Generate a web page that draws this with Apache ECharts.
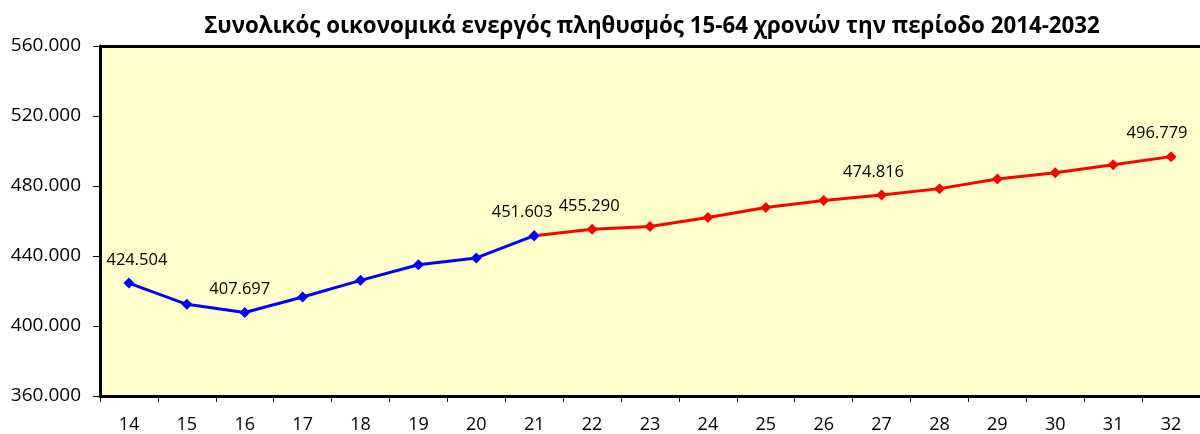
<!DOCTYPE html>
<html><head><meta charset="utf-8">
<script src="https://cdn.jsdelivr.net/npm/echarts@6/dist/echarts.min.js"></script>
<style>html,body{margin:0;padding:0;background:#fff}#c{width:1200px;height:434px}</style>
</head><body><div id="c"></div>
<script>
const title = 'Συνολικός οικονομικά ενεργός πληθυσμός 15-64 χρονών την περίοδο 2014-2032';
const categories = ['14','15','16','17','18','19','20','21','22','23','24','25','26','27','28','29','30','31','32'];
const actualValues = [424504, 412400, 407697, 416600, 426100, 435000, 438900, 451603];
const projectedValues = [451603, 455290, 456900, 462000, 467700, 471700, 474816, 478500, 484000, 487600, 492200, 496779];
const labeledCategories = ['14','16','21','22','27','32'];
const yTicks = [360000, 400000, 440000, 480000, 520000, 560000];

// horizontal nudges of the value labels (px), as placed in the reference
const labelNudge = { '14': 8, '16': -5, '21': -12, '22': -3, '27': -8, '32': -14 };

const fmt = v => Math.round(v).toString().replace(/\B(?=(\d{3})+(?!\d))/g, '.');
const projStart = categories.length - projectedValues.length;
const mk = (vals, start) => categories.map((c, i) => {
  const j = i - start;
  if (j < 0 || j >= vals.length) return null;
  const o = { value: vals[j] };
  if (labelNudge[c] !== undefined) o.label = { offset: [labelNudge[c], 0] };
  return o;
});
const actualData = mk(actualValues, 0);
const projData = mk(projectedValues, projStart);

const font = '"Open Sans", "Noto Sans", sans-serif';
const chart = echarts.init(document.getElementById('c'));
const labelCfg = (skip) => ({
  show: true, position: 'top', distance: 9, color: '#000', fontSize: 16.5, fontFamily: font,
  formatter: p => (labeledCategories.includes(p.name) && p.name !== skip) ? fmt(p.value) : ''
});
chart.setOption({
  animation: false,
  title: { text: title, left: 647, top: 11, textAlign: 'center',
    textStyle: { fontSize: 22.3, fontWeight: 'bold', fontFamily: font, color: '#000' } },
  grid: { left: 100, width: 1110, top: 46, bottom: 36, show: true, backgroundColor: '#ffffcc', borderWidth: 0 },
  xAxis: {
    type: 'category', data: categories, boundaryGap: true,
    axisLine: { lineStyle: { color: '#000', width: 3 } },
    axisTick: { show: true, length: 6, lineStyle: { color: '#000', width: 1 } },
    axisLabel: { color: '#000', fontSize: 18, fontFamily: font, margin: 20 }
  },
  yAxis: {
    type: 'value', min: yTicks[0], max: yTicks[yTicks.length - 1], interval: 40000,
    axisLine: { show: true, lineStyle: { color: '#000', width: 3 } },
    axisTick: { show: true, length: 7, lineStyle: { color: '#000', width: 1 } },
    splitLine: { show: false },
    axisLabel: { color: '#000', fontSize: 19, fontFamily: font, margin: 19, formatter: v => fmt(v) }
  },
  series: [
    { type: 'line', data: actualData, symbol: 'diamond', symbolSize: 11, connectNulls: false,
      lineStyle: { color: '#0000ff', width: 3 }, itemStyle: { color: '#0000ff' }, label: labelCfg(null), z: 3 },
    { type: 'line', data: projData, symbol: 'diamond', symbolSize: 11,
      lineStyle: { color: '#ff0000', width: 3 }, itemStyle: { color: '#ff0000' }, label: labelCfg('21'), z: 2 },
    { type: 'line', data: [], markLine: { silent: true, symbol: 'none', label: { show: false },
      lineStyle: { color: '#000', width: 3, type: 'solid' }, data: [{ yAxis: 560000 }] } }
  ]
});
</script></body></html>
